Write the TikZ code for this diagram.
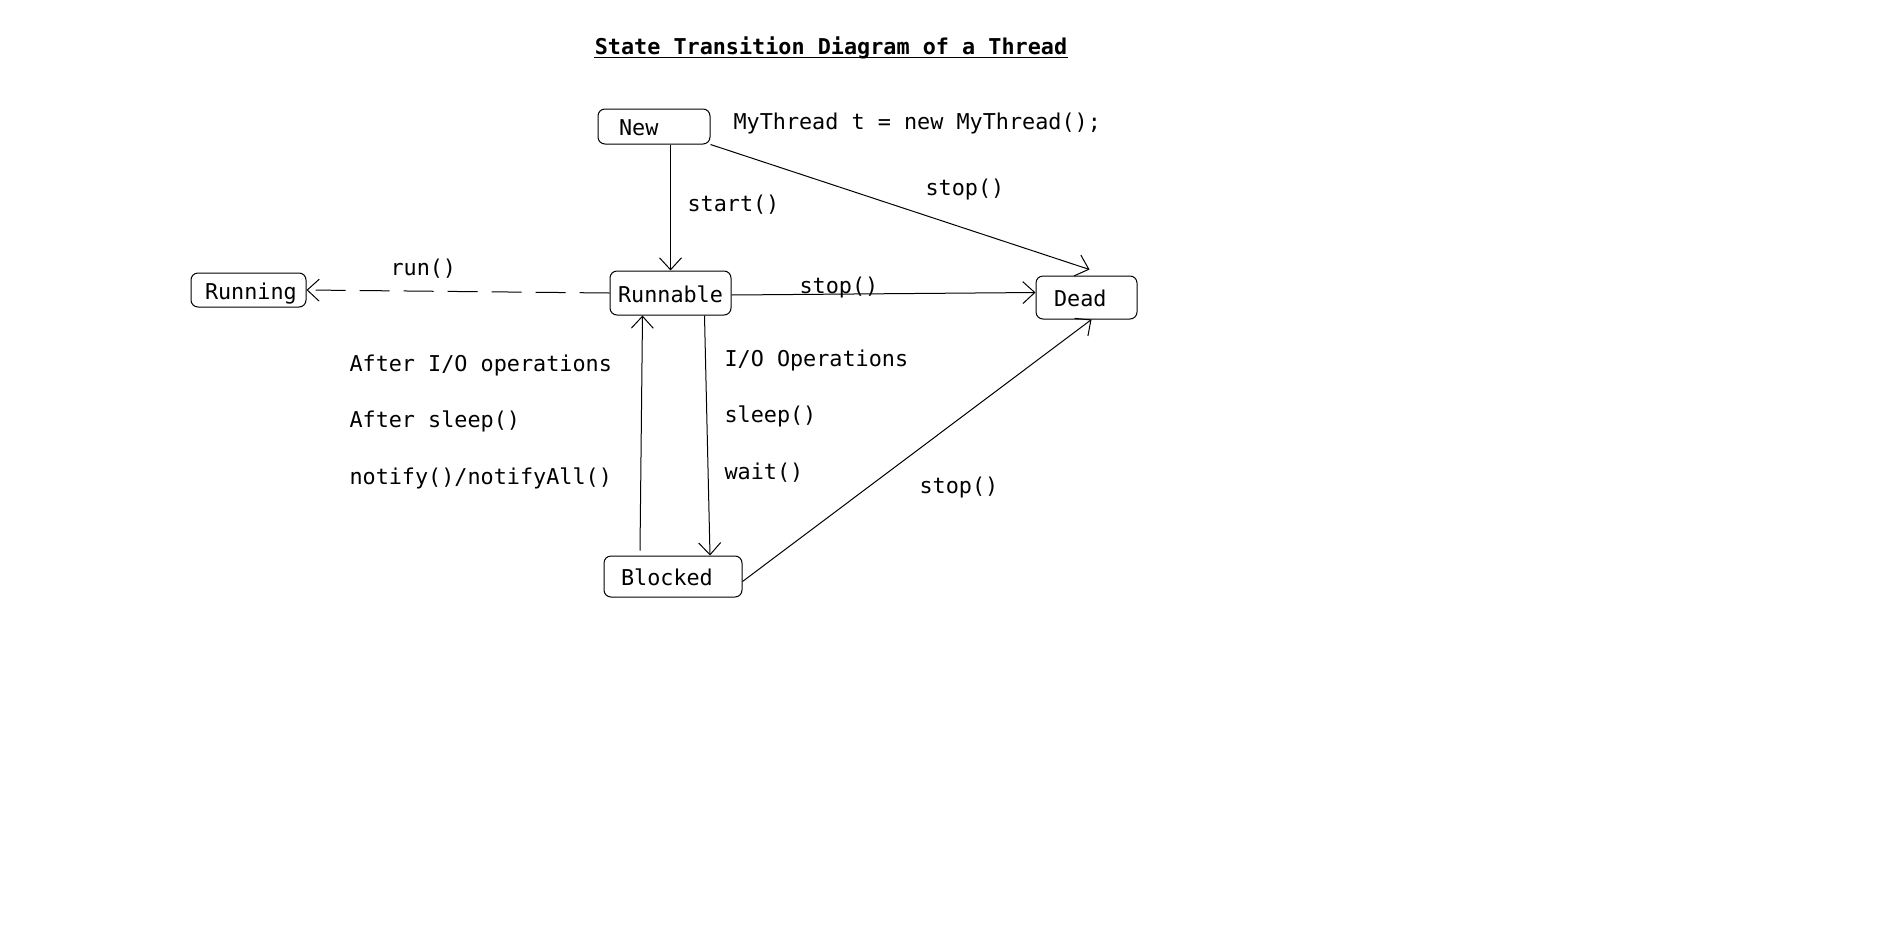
\documentclass[tikz,border=0pt]{standalone}
\usepackage{fontspec}
\setmonofont{DejaVu Sans Mono}
\usetikzlibrary{arrows.meta}

\newcommand{\codefont}{\fontsize{21.8}{26}\ttfamily}

\begin{document}
\begin{tikzpicture}[
	x=1pt, y=-1pt,
	line width=1pt,
	>={Straight Barb[length=12pt,width=22pt]},
	state/.style={draw, rounded corners=7pt, font=\codefont, inner xsep=16pt, inner ysep=0pt,
		align=left, execute at begin node={\rule[-0.25em]{0pt}{1.35em}}},
	lbl/.style={anchor=west, inner sep=0pt, font=\codefont, text height=0.75em, text depth=0.25em},
]
\useasboundingbox[fill=white] (0,0) rectangle (1883,951);

% title
\node[inner sep=0pt, font=\codefont\bfseries, text depth=0.32em] (title) at (831,47) {State Transition Diagram of a Thread};
\draw (title.south west) -- (title.south east);

% states
\node[state, inner xsep=21pt, text width=70pt, minimum height=35pt] (new) at (654,126.5) {New};
\node[state, inner xsep=8pt, text width=105pt, minimum height=44pt] (runnable) at (670.5,293) {Runnable};
\node[state, inner xsep=14pt, text width=87pt, minimum height=34pt] (running) at (248.5,290) {Running};
\node[state, inner xsep=18pt, text width=65pt, minimum height=43pt] (dead) at (1086.5,297.5) {Dead};
\node[state, inner xsep=17pt, text width=104pt, minimum height=41pt] (blocked) at (673,576.5) {Blocked};

% labels
\node[lbl] (code) at (733,127) {MyThread t = new MyThread();};
\node[lbl] (start) at (687,209) {start()};
\node[lbl] (stopnew) at (925,193) {stop()};
\node[lbl] (stoprun) at (799,291) {stop()};
\node[lbl] (run) at (390,273) {run()};
\node[lbl] (io) at (724,364) {I/O Operations};
\node[lbl] (sleep) at (724,420) {sleep()};
\node[lbl] (wait) at (724,477) {wait()};
\node[lbl] (afterio) at (349,369) {After I/O operations};
\node[lbl] (aftersleep) at (349,425) {After sleep()};
\node[lbl] (notify) at (349,482) {notify()/notifyAll()};
\node[lbl] (stopblk) at (919,491) {stop()};

% transitions
\draw[->] (new.south -| runnable.north) -- (runnable.north);
\draw[->] (new.south east) -- ([xshift=3pt,yshift=6pt]dead.north);
\draw[->] ([yshift=-2pt]runnable.east) -- ([yshift=5pt]dead.west);
\draw[->,dash pattern=on 30pt off 14pt] (runnable.west) -- (running.east);
\draw[->] ([xshift=34pt]runnable.south) -- ([xshift=37pt]blocked.north);
\draw[->] ([xshift=-33pt,yshift=5pt]blocked.north) -- ([xshift=-28pt]runnable.south);
\draw[->] ([yshift=-5pt]blocked.east) -- ([xshift=5pt]dead.south);

\end{tikzpicture}
\end{document}
